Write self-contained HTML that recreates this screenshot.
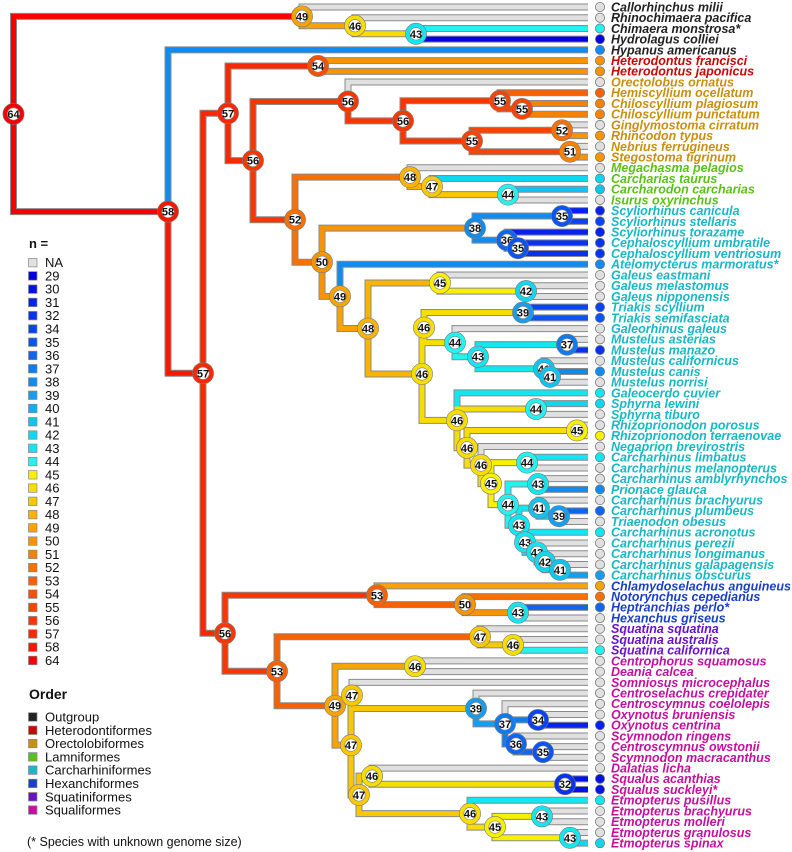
<!DOCTYPE html>
<html><head><meta charset="utf-8">
<style>
html,body{margin:0;padding:0;background:#fff;}
svg{display:block;font-family:"Liberation Sans",Arial,sans-serif;}
</style></head>
<body>
<svg id="chart" xmlns="http://www.w3.org/2000/svg" width="792" height="852" viewBox="0 0 792 852">
<g id="branches-outline"></g>
<g id="branches"></g>
<g id="nodes"></g>
<g id="tips"></g>
<g id="legend"></g>
</svg>
<script>
// ---- data ----
const speciesNames = ["Callorhinchus milii","Rhinochimaera pacifica","Chimaera monstrosa*","Hydrolagus colliei","Hypanus americanus","Heterodontus francisci","Heterodontus japonicus","Orectolobus ornatus","Hemiscyllium ocellatum","Chiloscyllium plagiosum","Chiloscyllium punctatum","Ginglymostoma cirratum","Rhincodon typus","Nebrius ferrugineus","Stegostoma tigrinum","Megachasma pelagios","Carcharias taurus","Carcharodon carcharias","Isurus oxyrinchus","Scyliorhinus canicula","Scyliorhinus stellaris","Scyliorhinus torazame","Cephaloscyllium umbratile","Cephaloscyllium ventriosum","Atelomycterus marmoratus*","Galeus eastmani","Galeus melastomus","Galeus nipponensis","Triakis scyllium","Triakis semifasciata","Galeorhinus galeus","Mustelus asterias","Mustelus manazo","Mustelus californicus","Mustelus canis","Mustelus norrisi","Galeocerdo cuvier","Sphyrna lewini","Sphyrna tiburo","Rhizoprionodon porosus","Rhizoprionodon terraenovae","Negaprion brevirostris","Carcharhinus limbatus","Carcharhinus melanopterus","Carcharhinus amblyrhynchos","Prionace glauca","Carcharhinus brachyurus","Carcharhinus plumbeus","Triaenodon obesus","Carcharhinus acronotus","Carcharhinus perezii","Carcharhinus longimanus","Carcharhinus galapagensis","Carcharhinus obscurus","Chlamydoselachus anguineus","Notorynchus cepedianus","Heptranchias perlo*","Hexanchus griseus","Squatina squatina","Squatina australis","Squatina californica","Centrophorus squamosus","Deania calcea","Somniosus microcephalus","Centroselachus crepidater","Centroscymnus coelolepis","Oxynotus bruniensis","Oxynotus centrina","Scymnodon ringens","Centroscymnus owstonii","Scymnodon macracanthus","Dalatias licha","Squalus acanthias","Squalus suckleyi*","Etmopterus pusillus","Etmopterus brachyurus","Etmopterus molleri","Etmopterus granulosus","Etmopterus spinax"];
const tipValues = [null,null,44,29,38,50,50,null,53,51, 51,null,50,null,50,null,42,41,null,31, 34,31,32,32,38,null,null,null,34,35, null,null,32,null,38,null,43,42,null,null, 45,null,43,null,null,38,null,36,null,43, null,null,null,39,49,52,36,null,null,null, 44,null,null,null,null,null,null,31,null,null, null,null,30,30,43,null,null,null,42];
const orderStarts = [0,5,7,15,19,54,58,61];
const orderNames = ["Outgroup","Heterodontiformes","Orectolobiformes","Lamniformes","Carcharhiniformes","Hexanchiformes","Squatiniformes","Squaliformes"];
const orderColors = ["#222222","#c80808","#c8900e","#5cc01a","#18b8c4","#1a3ec8","#6a12c8","#c4109c"];
const legendKeys = [29,30,31,32,34,35,36,37,38,39,40,41,42,43,44,45,46,47,48,49,50,51,52,53,54,55,56,57,58,64];
const legendColors = ["#0000e0","#0010e8","#0622f0","#0832f0","#0844f4","#0a54f4","#0c66f0","#107af0","#108cf0","#149ef0","#10b0f0","#10c4f0","#10d6f0","#12e6f0","#22f2f0","#f8f000","#f8de00","#f8c800","#f8b400","#f8a400","#f89400","#f88200","#f87000","#f86000","#f85000","#f84400","#f83600","#f82800","#f81800","#f80000"];

function N(v, depth, c){ return {v:v, x:depth, c:c}; }
// tree built bottom-up: N(node value, node depth, children); numbers are tip indices
const og = N(49,302,[0, N(46,355,[1, N(43,416,[2,3])])]);
const orect = N(56,348,[7, N(56,403,[ N(55,500,[8, N(55,522,[9,10])]), N(55,472,[N(52,562,[11,12]), N(51,570,[13,14])]) ])]);
const lamn = N(48,410,[15, N(47,432,[16, N(44,508,[17,18])])]);
const scyl = N(38,475,[N(35,562,[19,20]), N(36,507,[21, N(35,518,[22,23])])]);
const c43k = N(43,537,[50, N(42,545,[51, N(41,560,[52,53])])]);
const c43j = N(43,525,[49, c43k]);
const c41m = N(41,539,[46, N(39,559,[47,48])]);
const c43i = N(43,519,[c41m, c43j]);
const c44g = N(44,508,[N(43,538,[44,45]), c43i]);
const c45e = N(45,491,[N(44,527,[42,43]), c44g]);
const c46d = N(46,481,[41, c45e]);
const c46c = N(46,467,[N(45,577,[39,40]), c46d]);
const c46b = N(46,457,[36, N(44,536,[37,38]), c46c]);
const must = N(46,424,[N(39,523,[28,29]), N(44,455,[30, N(43,478,[N(37,567,[31,32]), N(41,544,[33, N(41,550,[34,35])])])])]);
const c46 = N(46,422,[must, c46b]);
const c48 = N(48,368,[N(45,440,[25, N(42,526,[26,27])]), c46]);
const c49 = N(49,340,[24, c48]);
const c50 = N(50,322,[scyl, c49]);
const c52 = N(52,295,[lamn, c50]);
const c56 = N(56,253,[orect, c52]);
const c57b = N(57,228,[N(54,318,[5,6]), c56]);
const c36 = N(36,516,[68, N(35,543,[69,70])]);
const c37 = N(37,505,[65, N(34,538,[66,67]), c36]);
const c47b = N(47,352,[63, N(39,476,[64, c37])]);
const c47d = N(47,359,[N(46,372,[71, N(32,565,[72,73])]), N(46,470,[74, N(45,495,[N(43,542,[75,76]), N(43,570,[77,78])])])]);
const c47c = N(47,351,[c47b, c47d]);
const c49s = N(49,335,[N(46,415,[61,62]), c47c]);
const c53b = N(53,277,[N(47,480,[58, N(46,513,[59,60])]), c49s]);
const c53a = N(53,377,[54, N(50,465,[55, N(43,518,[56,57])])]);
const c56L = N(56,225,[c53a, c53b]);
const c57 = N(57,203,[c57b, c56L]);
const c58 = N(58,168,[4, c57]);
const tree = N(64,13.5,[og, c58]);

// ---- layout helpers ----
const NS = "http://www.w3.org/2000/svg";
const tipY = i => 7 + i*10.72;
const tipEndX = 588, dotX = 600, labelX = 611;
function colorOf(v){
  if(v===null||v===undefined) return "#e0e0e0";
  let best=0, bd=1e9;
  legendKeys.forEach((k,i)=>{const d=Math.abs(k-v); if(d<bd){bd=d;best=i;}});
  return legendColors[best];
}
function orderOf(i){ let o=0; orderStarts.forEach((s,k)=>{ if(i>=s) o=k; }); return o; }
function layout(n){
  if(typeof n==="number") return tipY(n);
  const ys = n.c.map(layout);
  n.ys = ys;
  n.y = (ys[0]+ys[ys.length-1])/2;
  return n.y;
}
layout(tree);

const gO = document.getElementById("branches-outline");
const gB = document.getElementById("branches");
const gN = document.getElementById("nodes");
const gT = document.getElementById("tips");
const gL = document.getElementById("legend");
function el(tag, attrs, parent){
  const e=document.createElementNS(NS,tag);
  for(const k in attrs) e.setAttribute(k, attrs[k]);
  parent.appendChild(e); return e;
}
const nodeList=[];
function draw(n){
  nodeList.push(n);
  n.c.forEach((c,i)=>{
    const cy=n.ys[i];
    const isTip = typeof c==="number";
    const endX = isTip ? tipEndX : c.x;
    const col = isTip ? colorOf(tipValues[c]) : colorOf(n.v);
    const d = "M"+n.x+" "+n.y+" V"+cy+" H"+endX;
    const o = el("path",{d:d,fill:"none",stroke:"#8a8a8a","stroke-width":7},gO);
    
    
    const p = el("path",{d:d,fill:"none",stroke:col,"stroke-width":5},gB);
    
    
    if(!isTip) draw(c);
  });
}
draw(tree);

// node markers
nodeList.forEach(n=>{
  const g = el("g",{},gN);
  
  
  el("circle",{cx:n.x,cy:n.y,r:10.5,fill:"#fff",stroke:"#777","stroke-width":0.8},g);
  el("circle",{cx:n.x,cy:n.y,r:8.3,fill:"none",stroke:colorOf(n.v),"stroke-width":4},g);
  el("circle",{cx:n.x,cy:n.y,r:6.2,fill:"#fff",stroke:"#777","stroke-width":0.6},g);
  const t = el("text",{x:n.x,y:n.y+4,"text-anchor":"middle","font-size":"11","font-weight":"bold",fill:"#111"},g);
  t.textContent = n.v;
});

// tips: dots + labels
speciesNames.forEach((name,i)=>{
  const y = tipY(i);
  const c = el("circle",{cx:dotX,cy:y,r:4.6,fill:colorOf(tipValues[i]),stroke:"#777","stroke-width":0.8},gT);
  
  
  const t = el("text",{x:labelX,y:y+4.4,"font-size":"12.5","font-weight":"bold","font-style":"italic",fill:orderColors[orderOf(i)]},gT);
  
  
  t.textContent = name;
});

// legend: n =
const nTitle = el("text",{x:29,y:248,"font-size":"13","font-weight":"bold",fill:"#111"},gL);


nTitle.textContent = "n =";
const legY0 = 262.7, legStep = 13.26;
const naBox = el("rect",{x:28.5,y:legY0-4.3,width:8.5,height:8.5,fill:"#e0e0e0",stroke:"#888","stroke-width":0.7},gL);


const naT = el("text",{x:45,y:legY0+4.5,"font-size":"13",fill:"#111"},gL);


naT.textContent="NA";
legendKeys.forEach((k,i)=>{
  const y = legY0 + (i+1)*legStep;
  const r = el("rect",{x:28.5,y:y-4.3,width:8.5,height:8.5,fill:legendColors[i],stroke:"#888","stroke-width":0.7},gL);
  
  
  const t = el("text",{x:45,y:y+4.5,"font-size":"13",fill:"#111"},gL);
  
  
  t.textContent = k;
});
// legend: Order
const oTitle = el("text",{x:29,y:699,"font-size":"14","font-weight":"bold",fill:"#111"},gL);


oTitle.textContent="Order";
orderNames.forEach((nm,i)=>{
  const y = 717 + i*13.3;
  const r = el("rect",{x:28.5,y:y-4.3,width:8.5,height:8.5,fill:orderColors[i],stroke:"#888","stroke-width":0.7},gL);
  
  
  const t = el("text",{x:45,y:y+4.5,"font-size":"13",fill:"#111"},gL);
  
  
  t.textContent = nm;
});
const fn = el("text",{x:27,y:846,"font-size":"12.5",fill:"#111"},gL);


fn.textContent = "(* Species with unknown genome size)";
</script>
</body></html>
